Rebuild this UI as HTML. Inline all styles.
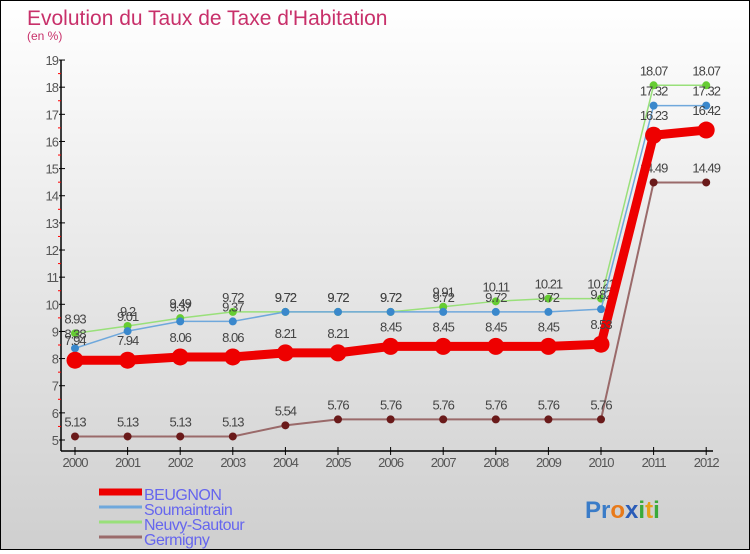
<!DOCTYPE html>
<html><head><meta charset="utf-8"><style>
html,body{margin:0;padding:0}
body{width:750px;height:550px;overflow:hidden;font-family:"Liberation Sans",sans-serif}
#wrap{position:relative;width:748px;height:548px;border:1px solid #000;background:linear-gradient(#ffffff,#cfcfcf)}
</style></head><body>
<div id="wrap">
<svg id="chart" width="748" height="548"></svg>
</div>
<script>
const years=["2000","2001","2002","2003","2004","2005","2006","2007","2008","2009","2010","2011","2012"];
const beugnon=[7.94,7.94,8.06,8.06,8.21,8.21,8.45,8.45,8.45,8.45,8.53,16.23,16.42];
const soumaintrain=[8.38,9.01,9.37,9.37,9.72,9.72,9.72,9.72,9.72,9.72,9.82,17.32,17.32];
const neuvy=[8.93,9.2,9.49,9.72,9.72,9.72,9.72,9.91,10.11,10.21,10.21,18.07,18.07];
const germigny=[5.13,5.13,5.13,5.13,5.54,5.76,5.76,5.76,5.76,5.76,5.76,14.49,14.49];
const yTicks=[5,6,7,8,9,10,11,12,13,14,15,16,17,18,19];
const seriesNames=["BEUGNON","Soumaintrain","Neuvy-Sautour","Germigny"];

const NS="http://www.w3.org/2000/svg";
const svg=document.getElementById('chart');
const X=i=>74+i*52.6;
const Y=v=>439-(v-5)*27.14;
function mk(t,a,p){const e=document.createElementNS(NS,t);for(const k in a)e.setAttribute(k,a[k]);(p||svg).appendChild(e);return e;}

let t=mk('text',{x:26,y:24,'font-size':21,fill:'#c8306a'});t.textContent="Evolution du Taux de Taxe d'Habitation";


t=mk('text',{x:26,y:39,'font-size':12,fill:'#c8306a'});t.textContent="(en %)";



let ax=mk('line',{x1:60,y1:Y(19),x2:60,y2:450,stroke:'#000','stroke-width':1.5});


ax=mk('line',{x1:60,y1:450,x2:712,y2:450,stroke:'#000','stroke-width':1.5});


yTicks.forEach(v=>{
  mk('line',{x1:58,y1:Y(v),x2:64,y2:Y(v),stroke:'#000'});
  if(v<19) mk('line',{x1:57,y1:Y(v+0.5),x2:60,y2:Y(v+0.5),stroke:'#f00'});
  const l=mk('text',{x:57,y:Y(v)+5,'font-size':13,fill:'#555','text-anchor':'end','letter-spacing':'-1'});l.textContent=v;
  
  
});
years.forEach((y,i)=>{
  mk('line',{x1:X(i),y1:446,x2:X(i),y2:454,stroke:'#000'});
  const l=mk('text',{x:X(i),y:466,'font-size':13,fill:'#555','text-anchor':'middle','letter-spacing':'-1'});l.textContent=y;
  
  
});

function series(data,color,w,r,dot,name,off){
  const g=mk('g',{});
  
  
  mk('polyline',{points:data.map((v,i)=>X(i)+','+Y(v)).join(' '),fill:'none',stroke:color,'stroke-width':w,'stroke-linejoin':'round'},g);
  data.forEach((v,i)=>{
    const c=mk('circle',{cx:X(i),cy:Y(v),r:r,fill:dot},g);
    
    
    const l=mk('text',{x:X(i),y:Y(v)-off,'font-size':13,fill:'#444','text-anchor':'middle','letter-spacing':'-1'},g);
    l.textContent=v;
    
    
  });
}
series(germigny,'#9a6a6a',2,4,'#6a1a1a','series-germigny',10);
series(neuvy,'#99e07a',1.5,4,'#66cc33','series-neuvy-sautour',10);
series(soumaintrain,'#6fa8dc',1.5,4,'#3a88cc','series-soumaintrain',10);
series(beugnon,'#ee0000',9,8.5,'#ee0000','series-beugnon',15);

const lc=['#ee0000','#6fa8dc','#99e07a','#9a6a6a'],lw=[7,3,3,3];
seriesNames.forEach((n,i)=>{
  const y=496+i*15;
  const g=mk('g',{});
  
  
  mk('line',{x1:98,y1:y-5,x2:141,y2:y-5,stroke:lc[i],'stroke-width':lw[i]},g);
  const l=mk('text',{x:143,y:y+3,'font-size':16,fill:'#6666ee','letter-spacing':'-0.5'},g);l.textContent=n;
});
t=mk('text',{x:584,y:517,'font-size':24,'font-weight':'bold','font-family':'Liberation Sans'});


[['P','#3a7cc8'],['r','#3a7cc8'],['o','#e87a1a'],['x','#2a5cb8'],['i','#3aaa3a'],['t','#e8a01a'],['i','#3aaa3a']].forEach(([c,f])=>{const s=mk('tspan',{fill:f},t);s.textContent=c;});
</script>
</body></html>
